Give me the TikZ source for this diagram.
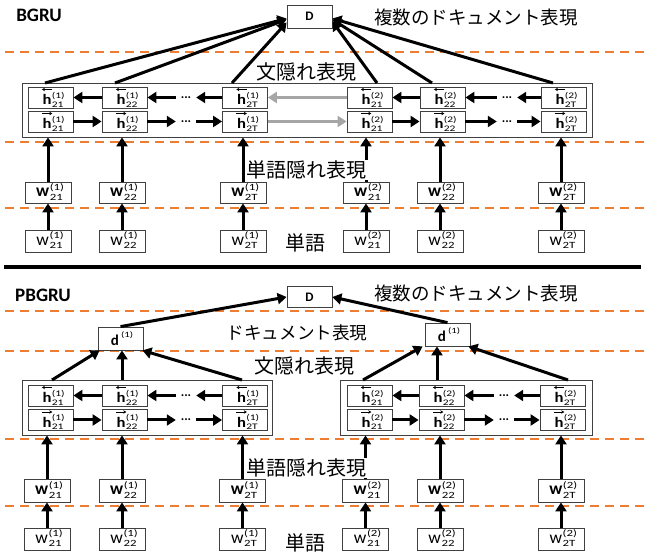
\documentclass[tikz,border=0pt]{standalone}
\usepackage{fontspec}
\setmainfont{Carlito}
\newfontfamily\jp{Noto Sans CJK JP}
\usetikzlibrary{arrows.meta}
\definecolor{dashor}{HTML}{ED7D31}
\definecolor{lgray}{HTML}{A6A6A6}
\definecolor{bgray}{HTML}{404040}
% script text: size, horizontally widened
\newcommand\scr[2]{{\fontsize{#1}{#1}\selectfont\scalebox{1.35}[1]{#2}}}
% sup, sub, size, raise sup, raise sub
\newcommand\supsub[5]{\raisebox{#4}{\makebox[0pt][l]{\scr{#3}{(#1)}}}\raisebox{#5}{\scr{#3}{#2}}}
\newcommand\hlab[2]{\kern5pt\scalebox{1.15}[1]{\bfseries h}\kern0.3pt\supsub{#1}{#2}{8.5}{6.5pt}{-2.3pt}}
\newcommand\wB[2]{\kern3pt{\bfseries w}\kern0.5pt\supsub{#1}{#2}{9.5}{6.6pt}{-3.5pt}}
\newcommand\wN[2]{\kern3pt{w}\kern0.5pt\supsub{#1}{#2}{9.5}{6.6pt}{-3.5pt}}
\newcommand\dlab{\kern3pt{\bfseries d}\kern2pt\raisebox{8.7pt}{\scr{8}{(1)}}}
\tikzset{
  cell/.style={draw=bgray, line width=0.8pt, minimum width=45pt, minimum height=21pt, inner sep=0pt, fill=white, font=\fontsize{14.5}{14.5}\selectfont, text height=17pt, text depth=2pt},
  wbox/.style={draw=bgray, line width=0.8pt, minimum width=46pt, minimum height=21pt, inner sep=0pt, fill=white, font=\fontsize{17.5}{17.5}\selectfont, text height=12.4pt, text depth=4pt},
  outerbox/.style={draw=bgray, line width=0.8pt, inner sep=0pt},
  dotsn/.style={minimum width=20pt, inner sep=0pt, font=\bfseries\fontsize{13}{13}\selectfont},
  docbox/.style={draw=bgray, line width=0.8pt, minimum width=45pt, minimum height=23pt, inner sep=0pt, fill=white, font=\fontsize{13}{13}\selectfont},
  dbox/.style={docbox, font=\fontsize{15}{15}\selectfont, text height=17pt, text depth=2pt},
  arr/.style={line width=3pt, -{Triangle[length=9pt,width=11pt]}},
  garr/.style={arr, draw=lgray, -{Triangle[length=9pt,width=11pt,fill=lgray]}},
  harr/.style={line width=0.7pt, -{Stealth[length=3pt,width=3.5pt]}},
  odash/.style={draw=dashor, line width=1.5pt, dash pattern=on 9pt off 6pt},
  jplab/.style={font=\jp\fontsize{20}{22}\selectfont, inner sep=1pt},
  title/.style={font=\bfseries\fontsize{19}{20}\selectfont, inner sep=0pt}
}
% prefix, doc index, x1, x2, x3, yback, yfwd, dotx
\newcommand\cellrows[8]{%
  \node[cell] (#1b1) at (#3,#6) {\hlab{#2}{21}};
  \node[cell] (#1b2) at (#4,#6) {\hlab{#2}{22}};
  \node[cell] (#1b3) at (#5,#6) {\hlab{#2}{2T}};
  \node[dotsn] (#1bd) at (#8,#6) {...};
  \node[cell] (#1f1) at (#3,#7) {\hlab{#2}{21}};
  \node[cell] (#1f2) at (#4,#7) {\hlab{#2}{22}};
  \node[cell] (#1f3) at (#5,#7) {\hlab{#2}{2T}};
  \node[dotsn] (#1fd) at (#8,#7) {...};
  \foreach \k in {1,2,3}{
    \draw[harr] ([xshift=1.8pt,yshift=8pt]#1b\k.center) -- ([xshift=-8.6pt,yshift=8pt]#1b\k.center);
    \draw[harr] ([xshift=-8.6pt,yshift=8pt]#1f\k.center) -- ([xshift=1.8pt,yshift=8pt]#1f\k.center);
  }
  \draw[arr] (#1b2.west) -- (#1b1.east);
  \draw[arr] (#1bd.west) -- (#1b2.east);
  \draw[arr] (#1b3.west) -- (#1bd.east);
  \draw[arr] (#1f1.east) -- (#1f2.west);
  \draw[arr] (#1f2.east) -- (#1fd.west);
  \draw[arr] (#1fd.east) -- (#1f3.west);
}
\begin{document}
\begin{tikzpicture}[x=1pt,y=-1pt]
\useasboundingbox (0,0) rectangle (649,553);
% ---------------- dashed separators
\foreach \yy/\nm in {52/da, 142/db, 208/dc, 311/dd, 351/de, 439/df, 506/dg}{
  \coordinate (\nm l) at (5,\yy); \coordinate (\nm r) at (645,\yy);
  \draw[odash] (\nm l) -- (\nm r);
}
% thick separator
\coordinate (sepl) at (4,267.5); \coordinate (sepr) at (641,267.5);
\draw[line width=4pt] (sepl) -- (sepr);

% ================= BGRU =================
\node[title] (tB) at (39,15) {BGRU};
\node[docbox, minimum height=23pt] (D1) at (309.5,16.5) {\bfseries D};
\node[jplab, font=\jp\fontsize{18.5}{20}\selectfont] (lab1) at (476,18) {複数のドキュメント表現};
\node[jplab] (lab2) at (306,72) {文隠れ表現};
\node[outerbox, minimum width=570pt, minimum height=54pt] (S) at (307,110) {};
\cellrows{a}{1}{50.5}{124.5}{245}{97.5}{121.5}{186}
\cellrows{c}{2}{369.5}{442.5}{563.5}{97.5}{121.5}{507}
\draw[garr] (cb1.west) -- (ab3.east);
\draw[garr] (af3.east) -- (cf1.west);
% lines to D
\coordinate (t1) at (45,83); \coordinate (t2) at (115,83); \coordinate (t3) at (232,83);
\coordinate (t4) at (377,83); \coordinate (t5) at (432,83); \coordinate (t6) at (553,83);
\draw[arr] (t1) -- ([yshift=-2pt]D1.west);
\draw[arr] (t2) -- ([yshift=-3pt]D1.west);
\draw[arr] (t3) -- ([yshift=-6pt]D1.west);
\draw[arr] (t4) -- ([yshift=-5pt]D1.east);
\draw[arr] (t5) -- ([yshift=-3pt]D1.east);
\draw[arr] (t6) -- ([yshift=-2pt]D1.east);
% words
\foreach \x/\s/\d/\n in {48/21/1/a, 122/22/1/b, 243/2T/1/c, 366/21/2/d, 440/22/2/e, 561/2T/2/f}{
  \node[wbox] (hw\n) at (\x,192.5) {\wB{\d}{\s}};
  \node[wbox, minimum height=22pt] (ww\n) at (\x,241) {\wN{\d}{\s}};
  \draw[arr] (ww\n.north) -- (hw\n.south);
  \draw[arr] (hw\n.north) -- (hw\n.north |- S.south);
}
\node[jplab, fill=white] (lab3) at (306.5,170) {単語隠れ表現};
\node[jplab] (lab4) at (305,243) {単語};

% ================= PBGRU =================
\node[title] (tP) at (43,295) {PBGRU};
\node[docbox, minimum height=21pt] (D2) at (309.5,297) {\bfseries D};
\node[jplab, font=\jp\fontsize{18.5}{20}\selectfont] (lab5) at (476,294) {複数のドキュメント表現};
\node[dbox] (d1) at (120.5,338.5) {\dlab};
\node[dbox] (d2) at (447.5,334.5) {\dlab};
\node[jplab, font=\jp\fontsize{17.6}{19}\selectfont] (lab6) at (297,333) {ドキュメント表現};
\node[jplab] (lab7) at (304,366) {文隠れ表現};
\node[outerbox, minimum width=250pt, minimum height=55pt] (SL) at (147,407.5) {};
\node[outerbox, minimum width=252pt, minimum height=55pt] (SR) at (466,407.5) {};
\cellrows{p}{1}{50.5}{124.5}{245}{395.5}{420}{186}
\cellrows{q}{2}{369.5}{441.5}{562.5}{395.5}{420}{504}
\draw[arr] (d1.north) -- (D2.west);
\draw[arr] (d2.north) -- (D2.east);
\coordinate (u1) at (52,380); \coordinate (u2) at (122,380); \coordinate (u3) at (242,380);
\coordinate (u4) at (363,380); \coordinate (u5) at (437,380); \coordinate (u6) at (568,380);
\draw[arr] (u1) -- ([xshift=2pt]d1.south west);
\draw[arr] (u2) -- (u2 |- d1.south);
\draw[arr] (u3) -- ([xshift=-1pt]d1.south east);
\draw[arr] (u4) -- ([xshift=-2pt]d2.south west);
\draw[arr] (u5) -- (u5 |- d2.south);
\draw[arr] (u6) -- ([xshift=-2pt]d2.south east);
\foreach \x/\s/\d/\n/\B in {47/21/1/a/SL, 122/22/1/b/SL, 242.5/2T/1/c/SL, 365.5/21/2/d/SR, 440/22/2/e/SR, 561/2T/2/f/SR}{
  \node[wbox, minimum height=23pt] (phw\n) at (\x,490.5) {\wB{\d}{\s}};
  \node[wbox, minimum height=22pt] (pww\n) at (\x,539) {\wN{\d}{\s}};
  \draw[arr] (pww\n.north) -- (phw\n.south);
  \draw[arr] (phw\n.north) -- (phw\n.north |- \B.south);
}
\node[jplab, fill=white] (lab8) at (306.5,468) {単語隠れ表現};
\node[jplab] (lab9) at (305,543) {単語};
\end{tikzpicture}
\end{document}
